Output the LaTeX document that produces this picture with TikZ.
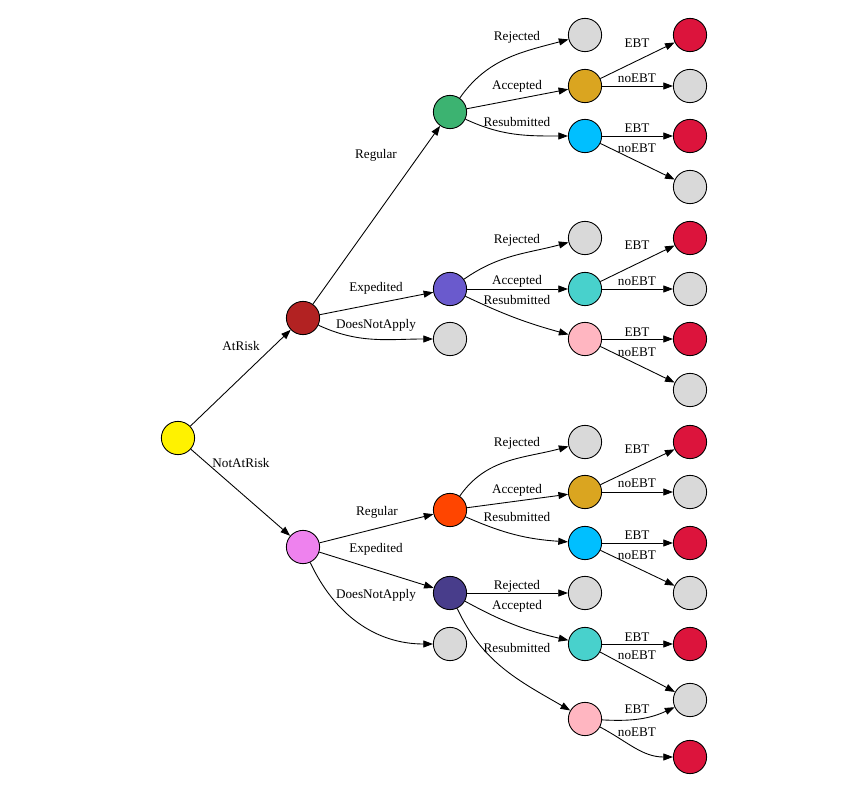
\documentclass[tikz,border=0pt]{standalone}
\usepackage{fontspec}
\setmainfont{Liberation Serif}
\usepackage{tikz}
\usetikzlibrary{arrows.meta}

\definecolor{lgrey}{HTML}{D9D9D9}
\definecolor{firebrick}{HTML}{B22222}
\definecolor{violetc}{HTML}{EE82EE}
\definecolor{seagreen}{HTML}{3CB371}
\definecolor{slateblue}{HTML}{6A5ACD}
\definecolor{orangered}{HTML}{FF4500}
\definecolor{dslateblue}{HTML}{483D8B}
\definecolor{goldenrod}{HTML}{DAA520}
\definecolor{deepsky}{HTML}{00BFFF}
\definecolor{mturquoise}{HTML}{48D1CC}
\definecolor{lpink}{HTML}{FFB6C1}
\definecolor{crimson}{HTML}{DC143C}

\begin{document}
\begin{tikzpicture}[x=0.02cm, y=-0.02cm,
	st/.style={circle, draw, line width=0.5pt, minimum size=0.665cm, inner sep=0pt},
	edge/.style={-{Triangle[length=5.5pt, width=4pt]}, line width=0.5pt},
	lbl/.style={font=\fontsize{7.5}{9}\selectfont, inner sep=0pt}]
	\useasboundingbox (0, 0) rectangle (867, 791);

	% root and risk level
	\node[st, fill=yellow] (root) at (178, 438) {};
	\node[st, fill=firebrick] (atrisk) at (303, 318) {};
	\node[st, fill=violetc] (notatrisk) at (303, 547) {};

	% filing type
	\node[st, fill=seagreen] (regA) at (450, 112) {};
	\node[st, fill=slateblue] (expA) at (450, 289) {};
	\node[st, fill=lgrey] (dnaA) at (450, 339) {};
	\node[st, fill=orangered] (regN) at (450, 510) {};
	\node[st, fill=dslateblue] (expN) at (450, 593) {};
	\node[st, fill=lgrey] (dnaN) at (450, 644) {};

	% outcome
	\node[st, fill=lgrey] (rejA1) at (585, 35) {};
	\node[st, fill=goldenrod] (accA1) at (585, 86) {};
	\node[st, fill=deepsky] (resA1) at (585, 136) {};
	\node[st, fill=lgrey] (rejA2) at (585, 238) {};
	\node[st, fill=mturquoise] (accA2) at (585, 289) {};
	\node[st, fill=lpink] (resA2) at (585, 339) {};
	\node[st, fill=lgrey] (rejN1) at (585, 442) {};
	\node[st, fill=goldenrod] (accN1) at (585, 492) {};
	\node[st, fill=deepsky] (resN1) at (585, 543) {};
	\node[st, fill=lgrey] (rejN2) at (585, 593) {};
	\node[st, fill=mturquoise] (accN2) at (585, 644) {};
	\node[st, fill=lpink] (resN2) at (585, 719) {};

	% EBT / noEBT
	\node[st, fill=crimson] (f1) at (690, 35) {};
	\node[st, fill=lgrey] (f2) at (690, 86) {};
	\node[st, fill=crimson] (f3) at (690, 136) {};
	\node[st, fill=lgrey] (f4) at (690, 187) {};
	\node[st, fill=crimson] (f5) at (690, 238) {};
	\node[st, fill=lgrey] (f6) at (690, 289) {};
	\node[st, fill=crimson] (f7) at (690, 339) {};
	\node[st, fill=lgrey] (f8) at (690, 390) {};
	\node[st, fill=crimson] (f9) at (690, 442) {};
	\node[st, fill=lgrey] (f10) at (690, 492) {};
	\node[st, fill=crimson] (f11) at (690, 543) {};
	\node[st, fill=lgrey] (f12) at (690, 593) {};
	\node[st, fill=crimson] (f13) at (690, 644) {};
	\node[st, fill=lgrey] (f14) at (690, 700) {};
	\node[st, fill=crimson] (f15) at (690, 757) {};

	\draw[edge] (root) -- (atrisk);
	\draw[edge] (root) -- (notatrisk);

	\draw[edge] (atrisk) -- (regA);
	\draw[edge] (atrisk) -- (expA);
	\draw[edge] (atrisk) to[out=-25, in=180] (dnaA);
	\draw[edge] (notatrisk) -- (regN);
	\draw[edge] (notatrisk) -- (expN);
	\draw[edge] (notatrisk) to[out=-65, in=180] (dnaN);

	\draw[edge] (regA) to[out=55, in=195] (rejA1);
	\draw[edge] (regA) -- (accA1);
	\draw[edge] (regA) to[out=-25, in=180] (resA1);
	\draw[edge] (expA) to[out=35, in=195] (rejA2);
	\draw[edge] (expA) -- (accA2);
	\draw[edge] (expA) to[bend right=5] (resA2);
	\draw[edge] (regN) to[out=55, in=195] (rejN1);
	\draw[edge] (regN) -- (accN1);
	\draw[edge] (regN) to[bend right=10] (resN1);
	\draw[edge] (expN) -- (rejN2);
	\draw[edge] (expN) to[bend right=8] (accN2);
	\draw[edge] (expN) to[out=-65, in=150] (resN2);

	\draw[edge] (accA1) -- (f1);
	\draw[edge] (accA1) -- (f2);
	\draw[edge] (resA1) -- (f3);
	\draw[edge] (resA1) -- (f4);
	\draw[edge] (accA2) -- (f5);
	\draw[edge] (accA2) -- (f6);
	\draw[edge] (resA2) -- (f7);
	\draw[edge] (resA2) -- (f8);
	\draw[edge] (accN1) -- (f9);
	\draw[edge] (accN1) -- (f10);
	\draw[edge] (resN1) -- (f11);
	\draw[edge] (resN1) -- (f12);
	\draw[edge] (accN2) -- (f13);
	\draw[edge] (accN2) -- (f14);
	\draw[edge] (resN2) to[out=-3, in=205] (f14);
	\draw[edge] (resN2) to[out=-28, in=180] (f15);

	% edge labels
	\node[lbl] (lAtRisk) at (241, 346) {AtRisk};
	\node[lbl] (lNotAtRisk) at (241, 463) {NotAtRisk};
	\node[lbl] (lRegA) at (376, 155) {Regular};
	\node[lbl] (lExpA) at (376, 288) {Expedited};
	\node[lbl] (lDnaA) at (376, 325) {DoesNotApply};
	\node[lbl] (lRegN) at (377, 512) {Regular};
	\node[lbl] (lExpN) at (376, 549) {Expedited};
	\node[lbl] (lDnaN) at (376, 595) {DoesNotApply};

	\node[lbl] (lRejA1) at (517, 37) {Rejected};
	\node[lbl] (lAccA1) at (517, 86) {Accepted};
	\node[lbl] (lResA1) at (517, 122) {Resubmitted};
	\node[lbl] (lRejA2) at (517, 240) {Rejected};
	\node[lbl] (lAccA2) at (517, 281) {Accepted};
	\node[lbl] (lResA2) at (517, 300) {Resubmitted};
	\node[lbl] (lRejN1) at (517, 443) {Rejected};
	\node[lbl] (lAccN1) at (517, 490) {Accepted};
	\node[lbl] (lResN1) at (517, 517) {Resubmitted};
	\node[lbl] (lRejN2) at (517, 586) {Rejected};
	\node[lbl] (lAccN2) at (517, 606) {Accepted};
	\node[lbl] (lResN2) at (517, 648) {Resubmitted};

	\node[lbl] (l1) at (637, 43) {EBT};
	\node[lbl] (l2) at (637, 78) {noEBT};
	\node[lbl] (l3) at (637, 128) {EBT};
	\node[lbl] (l4) at (637, 148) {noEBT};
	\node[lbl] (l5) at (637, 245) {EBT};
	\node[lbl] (l6) at (637, 281) {noEBT};
	\node[lbl] (l7) at (637, 332) {EBT};
	\node[lbl] (l8) at (637, 352) {noEBT};
	\node[lbl] (l9) at (637, 449) {EBT};
	\node[lbl] (l10) at (637, 483) {noEBT};
	\node[lbl] (l11) at (637, 535) {EBT};
	\node[lbl] (l12) at (637, 555) {noEBT};
	\node[lbl] (l13) at (637, 637) {EBT};
	\node[lbl] (l14) at (637, 655) {noEBT};
	\node[lbl] (l15) at (637, 709) {EBT};
	\node[lbl] (l16) at (637, 732) {noEBT};
\end{tikzpicture}
\end{document}
